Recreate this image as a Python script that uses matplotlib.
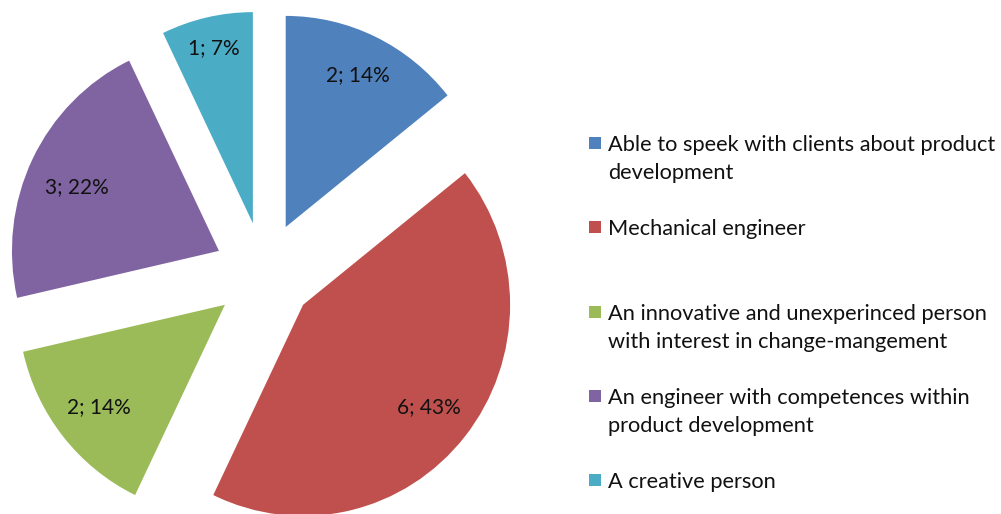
import matplotlib.pyplot as plt
import numpy as np

# Data
categories = [
    "Able to speek with clients about product\ndevelopment",
    "Mechanical engineer",
    "An innovative and unexperinced person\nwith interest in change-mangement",
    "An engineer with competences within\nproduct development",
    "A creative person",
]
counts = [2, 6, 2, 3, 1]
percents = [14, 43, 14, 22, 7]
colors = ["#4F81BD", "#C0504D", "#9BBB59", "#8064A2", "#4BACC6"]

plt.rcParams['font.family'] = ['Lato', 'DejaVu Sans']

W, H = 1001, 514
sy = 1.02  # the original pie is slightly stretched vertically
fig = plt.figure(figsize=(W / 100, H / 100), dpi=100)
ax = fig.add_axes([0, 0, 1, 1])

radius = 207
center = (264, (H - 273) / sy)
wedges, _ = ax.pie(counts, colors=colors, startangle=90, counterclock=False,
                   radius=radius, center=center, explode=[50] * len(counts),
                   frame=True, wedgeprops=dict(linewidth=0))
ax.set_xlim(0, W)
ax.set_ylim(0, H / sy)
ax.set_aspect('auto')
ax.axis('off')

# value labels inside the slices
label_dist = [0.80, 0.78, 0.78, 0.76, 0.85]
label_shift = [0, 0, 0, -6, 0]
for w, c, p, d, s in zip(wedges, counts, percents, label_dist, label_shift):
    theta = np.deg2rad((w.theta1 + w.theta2) / 2)
    cx, cy = w.center
    ax.text(cx + d * radius * np.cos(theta), cy + d * radius * np.sin(theta) + s,
            f"{c}; {p}%", ha='center', va='center', fontsize=15, color='#111111')

# legend drawn as evenly spaced entries like the original
y0 = 143
step = 84.3
line_h = 28.5
for i, (lab, col) in enumerate(zip(categories, colors)):
    y = y0 + step * i
    fig.patches.append(plt.Rectangle((589 / W, 1 - (y + 6) / H), 12 / W, 12 / H,
                                     color=col, lw=0, transform=fig.transFigure))
    for j, line in enumerate(lab.split("\n")):
        fig.text(608 / W, 1 - (y + j * line_h) / H, line, ha='left',
                 va='center_baseline', fontsize=15.7, color='#111111')

fig.savefig('out.png', dpi=100)
